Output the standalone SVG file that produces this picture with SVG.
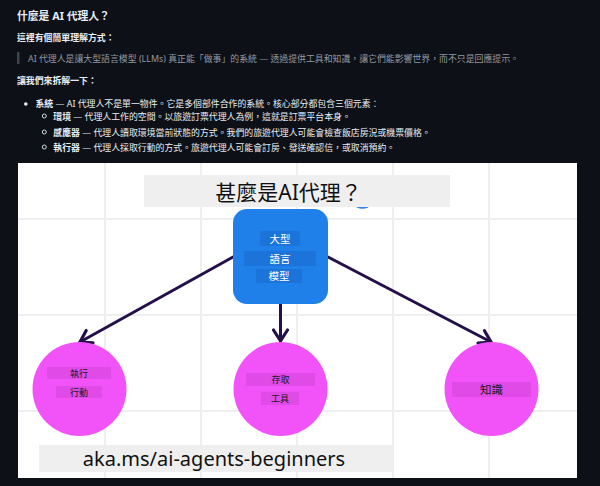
<svg xmlns="http://www.w3.org/2000/svg" width="600" height="486" viewBox="0 0 600 486">
  <defs>
    <style>
      .t { font-family: "Noto Sans", "Noto Sans CJK TC", sans-serif; font-size: 8.9px; fill: #e6edf3; }
      .b { font-weight: bold; }
      .q { fill: #9198a1; }
      .grid { stroke: #efefef; stroke-width: 2; }
      .conn { stroke: #23104a; stroke-width: 3; fill: none; stroke-linecap: round; }
      .bl { fill: #1c73d9; }
      .blt { font-family: "Noto Sans", "Noto Sans CJK TC", sans-serif; font-size: 10.5px; fill: #ffffff; text-anchor: middle; }
      .ml { fill: #e04ae6; }
      .mlt { font-family: "Noto Sans", "Noto Sans CJK TC", sans-serif; font-size: 9px; fill: #1a1a1a; text-anchor: middle; }
      .circ { fill: #f253f8; }
    </style>
    <marker id="arr" markerUnits="userSpaceOnUse" markerWidth="18" markerHeight="18" viewBox="0 0 18 18" refX="13" refY="9" orient="auto">
      <path d="M2,2 L13,9 L2,16" fill="none" stroke="#23104a" stroke-width="3.2" stroke-linecap="round" stroke-linejoin="round"/>
    </marker>
  </defs>

  <rect x="0" y="0" width="600" height="486" fill="#0d1117"/>

  <g id="text-top">
    <text class="t b" x="17" y="20" style="font-size:10.8px">什麼是 AI 代理人？</text>
    <text class="t b" x="17" y="41">這裡有個簡單理解方式：</text>
    <rect x="17" y="52" width="2.5" height="12" fill="#3d444d"/>
    <text class="t q" x="28" y="62">AI 代理人是讓大型語言模型 (LLMs) 真正能「做事」的系統 — 透過提供工具和知識，讓它們能影響世界，而不只是回應提示。</text>
    <text class="t b" x="17" y="84">讓我們來拆解一下：</text>
    <circle cx="25.8" cy="104" r="1.8" fill="#e6edf3"/>
    <text class="t" x="35.5" y="107"><tspan class="b">系統</tspan> — AI 代理人不是單一物件。它是多個部件合作的系統。核心部分都包含三個元素：</text>
    <circle cx="44.3" cy="116" r="2" fill="none" stroke="#e6edf3" stroke-width="0.9"/>
    <text class="t" x="53.3" y="119.5"><tspan class="b">環境</tspan> — 代理人工作的空間。以旅遊訂票代理人為例，這就是訂票平台本身。</text>
    <circle cx="44.3" cy="132" r="2" fill="none" stroke="#e6edf3" stroke-width="0.9"/>
    <text class="t" x="53.3" y="135.5"><tspan class="b">感應器</tspan> — 代理人讀取環境當前狀態的方式。我們的旅遊代理人可能會檢查飯店房況或機票價格。</text>
    <circle cx="44.3" cy="147" r="2" fill="none" stroke="#e6edf3" stroke-width="0.9"/>
    <text class="t" x="53.3" y="150.5"><tspan class="b">執行器</tspan> — 代理人採取行動的方式。旅遊代理人可能會訂房、發送確認信，或取消預約。</text>
  </g>

  <g id="canvas">
    <rect x="18" y="163" width="559" height="315" fill="#ffffff"/>
    <line class="grid" x1="105" y1="163" x2="105" y2="478"/>
    <line class="grid" x1="201" y1="163" x2="201" y2="478"/>
    <line class="grid" x1="297" y1="163" x2="297" y2="478"/>
    <line class="grid" x1="393" y1="163" x2="393" y2="478"/>
    <line class="grid" x1="489" y1="163" x2="489" y2="478"/>
    <line class="grid" x1="18" y1="219" x2="577" y2="219"/>
    <line class="grid" x1="18" y1="315" x2="577" y2="315"/>
    <line class="grid" x1="18" y1="411" x2="577" y2="411"/>
  </g>

  <g id="title">
    <path d="M357,206.5 Q362.5,209 368,206.5" fill="none" stroke="#2f86e8" stroke-width="2"/>
    <rect x="144" y="175" width="306" height="32" fill="#efefef"/>
    <text x="288.5" y="200" text-anchor="middle" style="font-family:'Noto Sans','Noto Sans CJK TC',sans-serif;font-size:21px;fill:#111111">甚麼是AI代理？</text>
  </g>

  <g id="connectors">
    <line class="conn" x1="233" y1="257" x2="80" y2="342" marker-end="url(#arr)"/>
    <line class="conn" x1="280.5" y1="304" x2="280.5" y2="341" marker-end="url(#arr)"/>
    <line class="conn" x1="328" y1="257" x2="491" y2="342" marker-end="url(#arr)"/>
  </g>

  <g id="llm">
    <rect x="233" y="209" width="95" height="95" rx="14" fill="#2080ea"/>
    <rect class="bl" x="260" y="231" width="40" height="15"/>
    <text class="blt" x="280" y="242.5">大型</text>
    <rect class="bl" x="244" y="251" width="72" height="15"/>
    <text class="blt" x="280" y="262.5">語言</text>
    <rect class="bl" x="256" y="269" width="46" height="14"/>
    <text class="blt" x="279" y="280">模型</text>
  </g>

  <g id="action">
    <circle class="circ" cx="79.5" cy="389" r="47"/>
    <rect class="ml" x="47" y="367" width="64" height="12"/>
    <text class="mlt" x="79" y="376.5">執行</text>
    <rect class="ml" x="56" y="386" width="46" height="12"/>
    <text class="mlt" x="79" y="395.5">行動</text>
  </g>

  <g id="tools">
    <circle class="circ" cx="280.5" cy="389" r="47"/>
    <rect class="ml" x="246" y="373" width="69" height="13"/>
    <text class="mlt" x="280.5" y="382.8">存取</text>
    <rect class="ml" x="261" y="392" width="38" height="13"/>
    <text class="mlt" x="280" y="401.8">工具</text>
  </g>

  <g id="knowledge">
    <circle class="circ" cx="491.5" cy="389" r="47"/>
    <rect class="ml" x="452" y="382" width="79" height="15"/>
    <text class="mlt" x="491.5" y="394" style="font-size:11.5px">知識</text>
  </g>

  <g id="link">
    <rect x="39" y="445" width="355" height="27" fill="#efefef"/>
    <text x="214" y="466" text-anchor="middle" style="font-family:'Noto Sans',sans-serif;font-size:20px;fill:#111111">aka.ms/ai-agents-beginners</text>
  </g>
</svg>
